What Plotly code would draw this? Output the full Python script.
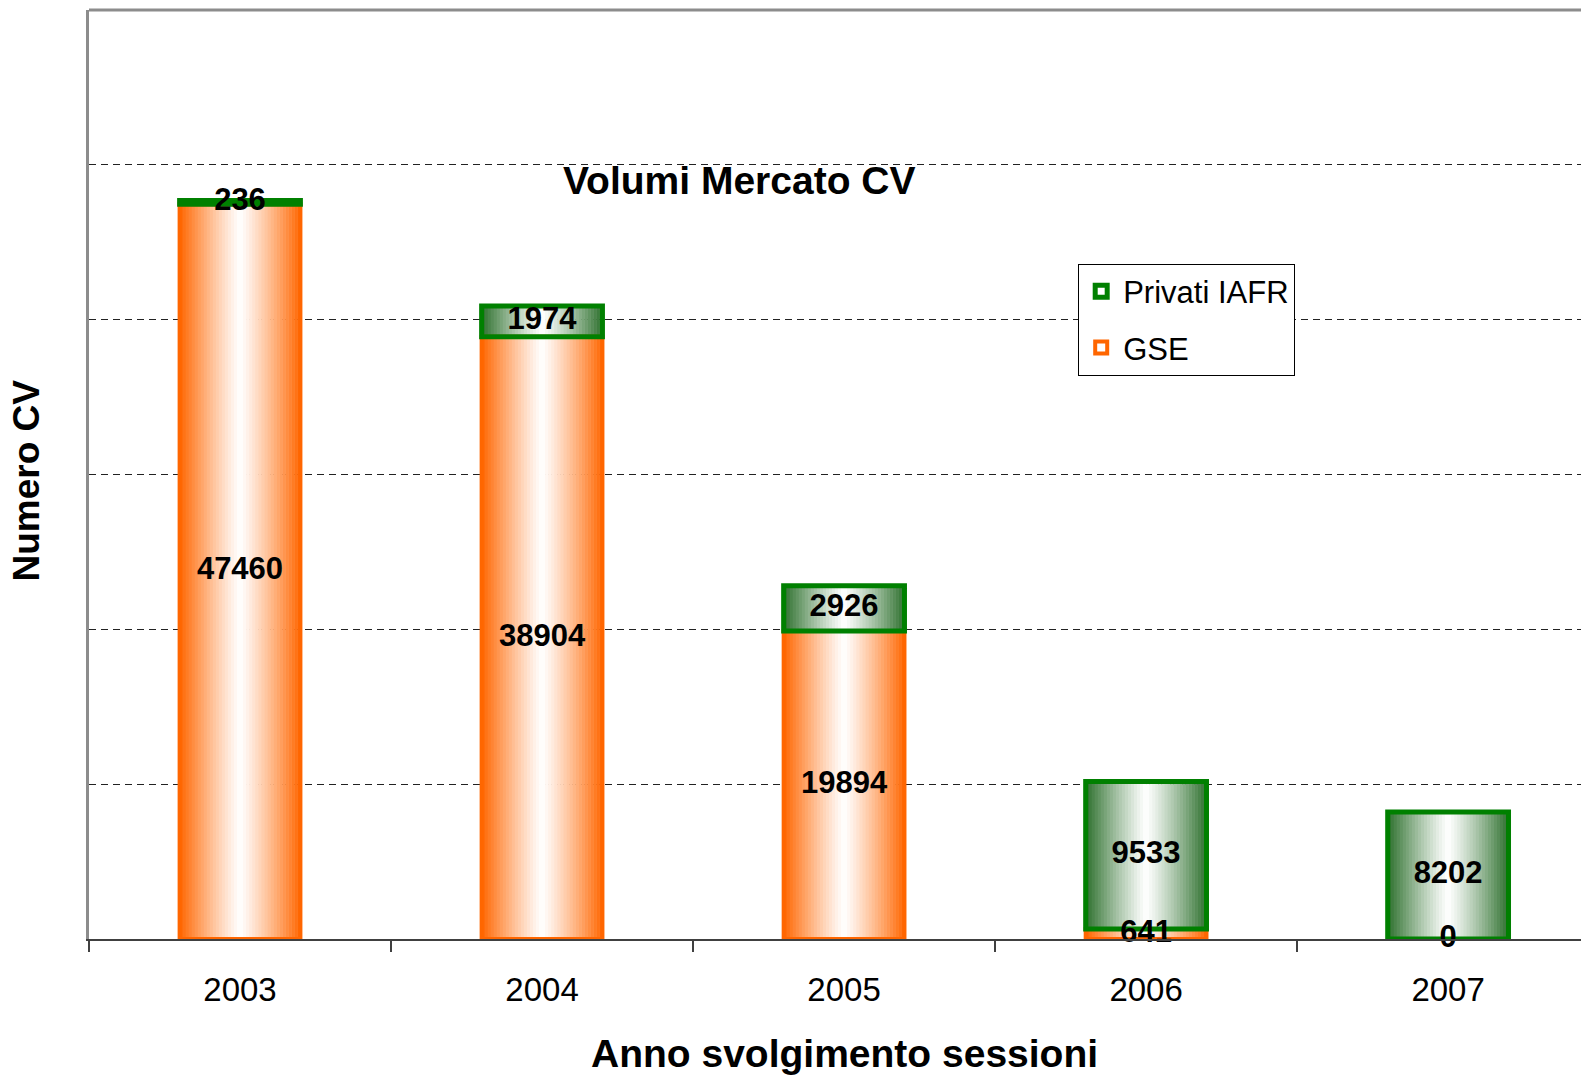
import plotly.graph_objects as go

# ---- data ----
years = ["2003", "2004", "2005", "2006", "2007"]
gse = [47460, 38904, 19894, 641, 0]
privati = [236, 1974, 2926, 9533, 8202]
series_names = ["GSE", "Privati IAFR"]

FONT = "Liberation Sans, Arial, sans-serif"
BW = 0.400          # bar width in category units
N = 40              # gradient slices
ORANGE = (255, 102, 0)
GREEN_EDGE = (45, 112, 45)
GREEN_LINE = "#008000"
ORANGE_LINE = "#FF6600"


def mix(edge, t):
    f = t ** 1.15
    return "rgb(%d,%d,%d)" % tuple(round(255 + (c - 255) * f) for c in edge)


fig = go.Figure()

bases_gse = [0] * len(years)
bases_priv = list(gse)

# gradient slices
for vals, bases, edge in [(gse, bases_gse, ORANGE), (privati, bases_priv, GREEN_EDGE)]:
    for i in range(N):
        t = abs((i + 0.5) / N - 0.5) * 2
        fig.add_trace(go.Bar(
            x=years, y=vals, base=bases,
            width=BW / N * 1.15, offset=-BW / 2 + i * BW / N,
            marker=dict(color=mix(edge, t), line=dict(width=0)),
            showlegend=False, hoverinfo="skip",
        ))

# outlines (also legend entries)
fig.add_trace(go.Bar(
    x=years, y=gse, base=bases_gse, width=BW, offset=-BW / 2,
    marker=dict(color="rgba(255,255,255,0)", line=dict(color=ORANGE_LINE, width=4)),
    name=series_names[0], legendgroup="g", legendrank=2,
))
fig.add_trace(go.Bar(
    x=years, y=privati, base=bases_priv, width=BW, offset=-BW / 2,
    marker=dict(color="rgba(255,255,255,0)", line=dict(color=GREEN_LINE, width=5)),
    name=series_names[1], legendgroup="p", legendrank=1,
))

# data labels
lab_x = years + years
lab_y = [b + v / 2 for b, v in zip(bases_gse, gse)] + [b + v / 2 for b, v in zip(bases_priv, privati)]
lab_t = [str(v) for v in gse] + [str(v) for v in privati]
fig.add_trace(go.Scatter(
    x=lab_x, y=lab_y, text=lab_t, mode="text",
    textfont=dict(family=FONT, size=31, color="black", weight="bold"),
    showlegend=False, hoverinfo="skip", cliponaxis=False,
))

fig.update_layout(
    width=1581, height=1078,
    margin=dict(l=89, r=0, t=10, b=139),
    paper_bgcolor="white", plot_bgcolor="white",
    barmode="overlay",
    font=dict(family=FONT, color="black"),
    showlegend=True,
    legend=dict(
        x=0.663, y=0.727, xanchor="left", yanchor="top",
        bgcolor="white", bordercolor="black", borderwidth=1,
        font=dict(size=31, family=FONT),
        tracegroupgap=13, itemwidth=34,
    ),
    xaxis=dict(
        type="category", range=[-0.5, 4.44],
        showline=True, linecolor="#404040", linewidth=2,
        ticks="outside", tickson="boundaries", ticklen=11, tickcolor="#404040", tickwidth=2,
        tickfont=dict(size=33, family=FONT, color="black"),
        ticklabelstandoff=20,
        showgrid=False, zeroline=False,
    ),
    yaxis=dict(
        range=[0, 60000], dtick=10000,
        showticklabels=False, ticks="",
        showline=True, linecolor="#8c8c8c", linewidth=3,
        showgrid=True, gridcolor="#222222", gridwidth=1, griddash="7px,5px",
        zeroline=False,
    ),
    shapes=[dict(type="line", xref="paper", yref="paper", x0=0, x1=1, y0=1, y1=1,
                 line=dict(color="#8c8c8c", width=3))],
    annotations=[
        dict(text="<b>Volumi Mercato CV</b>", xref="paper", yref="paper",
             x=0.4357, y=0.8168, xanchor="center", yanchor="middle", showarrow=False,
             font=dict(size=39, family=FONT, color="black")),
        dict(text="<b>Anno svolgimento sessioni</b>", xref="paper", yref="paper",
             x=0.5067, y=-0.1228, xanchor="center", yanchor="middle", showarrow=False,
             font=dict(size=39, family=FONT, color="black")),
        dict(text="<b>Numero CV</b>", xref="paper", yref="paper",
             x=-0.0416, y=0.4935, xanchor="center", yanchor="middle", showarrow=False,
             textangle=-90, font=dict(size=37, family=FONT, color="black")),
    ],
)

fig.write_html("out.html", config={"displayModeBar": False},
               post_script="document.body.style.margin='0px';document.body.style.overflow='hidden';")
